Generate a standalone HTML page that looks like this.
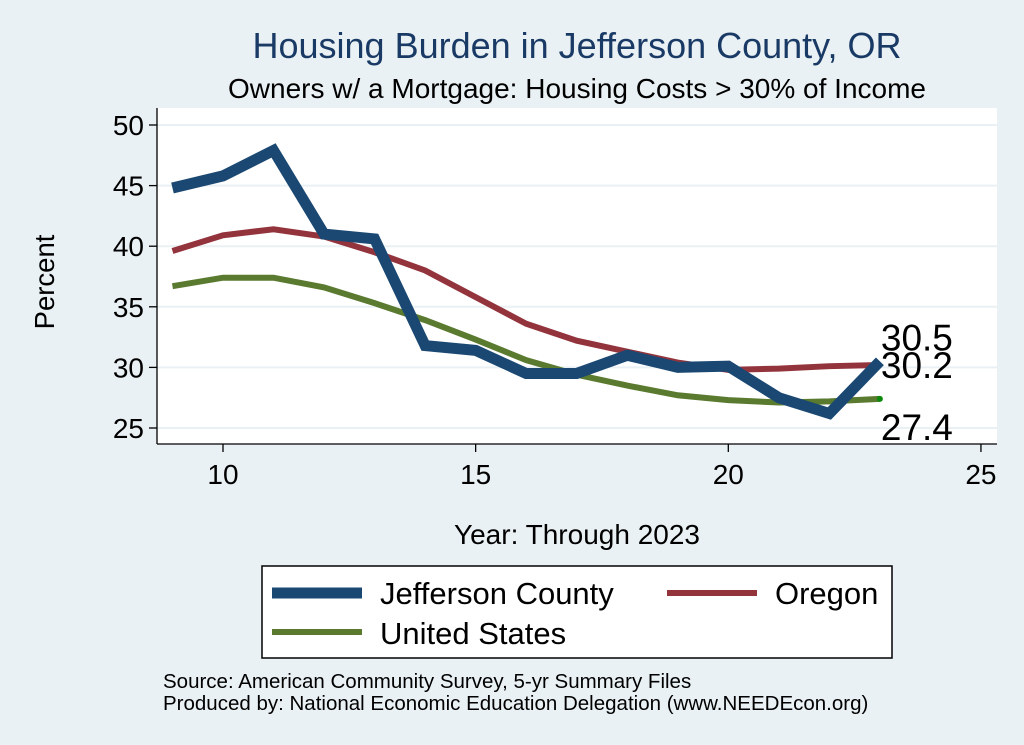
<!DOCTYPE html>
<html><head><meta charset="utf-8"><style>
body{margin:0;background:#eaf1f4;}
svg{display:block;font-family:"Liberation Sans",sans-serif;}
</style></head><body>
<svg id="chart" width="1024" height="745">
<rect x="0" y="0" width="1024" height="745" fill="#eaf1f4"/>
<text x="577" y="58" font-size="36" fill="#1a3a66" text-anchor="middle">Housing Burden in Jefferson County, OR</text>
<text x="577" y="98" font-size="28" fill="#000" text-anchor="middle">Owners w/ a Mortgage: Housing Costs &gt; 30% of Income</text>
<rect x="157" y="108" width="840" height="336" fill="#fff"/>
<g id="grid"></g>
<g id="axes"></g>
<g id="series"></g>
<text x="54" y="282" font-size="27.5" text-anchor="middle" transform="rotate(-90 54 282)">Percent</text>
<text x="577" y="544" font-size="28" text-anchor="middle">Year: Through 2023</text>
<g>
<rect x="262" y="566" width="630" height="92" fill="#fff" stroke="#000" stroke-width="1.5"/>
<line x1="272" y1="593" x2="362" y2="593" stroke="#1a4872" stroke-width="11"/>
<text x="380" y="604" font-size="31">Jefferson County</text>
<line x1="667" y1="593" x2="757" y2="593" stroke="#93343d" stroke-width="6"/>
<text x="775" y="604" font-size="31">Oregon</text>
<line x1="272" y1="632" x2="362" y2="632" stroke="#5a7a2f" stroke-width="6"/>
<text x="380" y="644" font-size="31">United States</text>
</g>
<text x="163" y="688" font-size="20.5">Source: American Community Survey, 5-yr Summary Files</text>
<text x="163" y="710" font-size="20.5">Produced by: National Economic Education Delegation (www.NEEDEcon.org)</text>
</svg>
<script>
const years=[9,10,11,12,13,14,15,16,17,18,19,20,21,22,23];
const jefferson=[44.8,45.8,47.9,41.0,40.6,31.8,31.4,29.5,29.5,31.0,30.0,30.1,27.5,26.2,30.5];
const oregon=[39.6,40.9,41.4,40.8,39.5,38.0,35.8,33.6,32.2,31.3,30.4,29.8,29.9,30.1,30.2];
const us=[36.7,37.4,37.4,36.6,35.3,33.9,32.3,30.6,29.4,28.5,27.7,27.3,27.1,27.2,27.4];
const yTicks=[25,30,35,40,45,50];
const xTicks=[10,15,20,25];
const endLabels=["30.5","30.2","27.4"];
const NS="http://www.w3.org/2000/svg";
function X(v){return 223+(v-10)*50.53;}
function Y(v){return 125+(50-v)*12.12;}
function mk(tag,attrs,parent){const e=document.createElementNS(NS,tag);for(const k in attrs)e.setAttribute(k,attrs[k]);document.getElementById(parent).appendChild(e);return e;}
yTicks.forEach(t=>{
 const g=mk('line',{x1:157,x2:997,y1:Y(t),y2:Y(t),stroke:'#eaf1f4','stroke-width':2},'grid');
 
 
 const tk=mk('line',{x1:149,x2:157,y1:Y(t),y2:Y(t),stroke:'#000','stroke-width':1.3},'axes');
 
 
 const tx=mk('text',{x:144,y:Y(t)+10,'font-size':28,'text-anchor':'end'},'axes');
 tx.textContent=t;
 
 
});
xTicks.forEach(t=>{
 const tk=mk('line',{x1:X(t),x2:X(t),y1:444,y2:452,stroke:'#000','stroke-width':1.3},'axes');
 
 
 const tx=mk('text',{x:X(t),y:484,'font-size':28,'text-anchor':'middle'},'axes');
 tx.textContent=t;
 
 
});
const ya=mk('line',{x1:157,x2:157,y1:108,y2:444,stroke:'#000','stroke-width':1.3},'axes');


const xa=mk('line',{x1:157,x2:997,y1:444,y2:444,stroke:'#000','stroke-width':1.3},'axes');


function line(vals,color,w,name){
 const p=mk('polyline',{points:vals.map((v,i)=>X(years[i])+','+Y(v)).join(' '),fill:'none',stroke:color,'stroke-width':w,'stroke-linejoin':'miter'},'series');
 
 
}
line(us,'#5a7a2f',6,'line-united-states');
line(oregon,'#93343d',6,'line-oregon');
line(jefferson,'#1a4872',11,'line-jefferson-county');
const last=years.length-1;
const dot=mk('circle',{cx:X(years[last]),cy:Y(us[last]),r:3,fill:'#0a8a0a'},'series');


const lx=X(years[last])+1;
[[jefferson[last],-11,endLabels[0],'end-label-jefferson'],[oregon[last],13,endLabels[1],'end-label-oregon'],[us[last],41,endLabels[2],'end-label-us']].forEach(a=>{
 const t=mk('text',{x:lx,y:Y(a[0])+a[1],'font-size':37},'series');
 t.textContent=a[2];
 
 
});
</script>
</body></html>
